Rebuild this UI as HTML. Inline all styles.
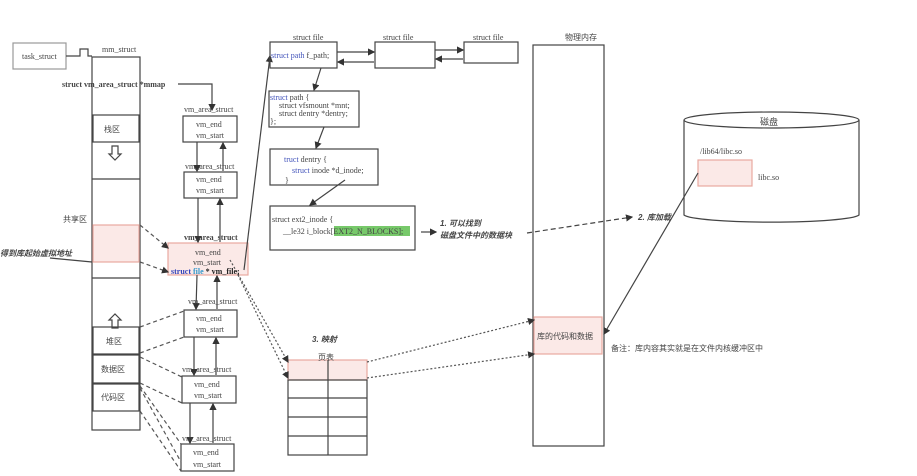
<!DOCTYPE html>
<html><head><meta charset="utf-8"><style>
html,body{margin:0;padding:0;background:#fff;}
svg{display:block;}
text{font-family:"Liberation Serif","Noto Serif CJK SC",serif;fill:#444;}
.c{font-family:"Liberation Sans","Noto Sans CJK SC",sans-serif;}
</style></head><body>
<svg width="917" height="476" viewBox="0 0 917 476" xmlns="http://www.w3.org/2000/svg">
<defs>
<marker id="a" markerWidth="6" markerHeight="6" refX="5" refY="3" orient="auto"><path d="M0,0 L6,3 L0,6 z" fill="#333"/></marker>
</defs>
<g fill="none" stroke="#444" stroke-width="1.2">
<rect x="13" y="43" width="53" height="26" stroke="#999"/>
<polyline points="66,56 80,56 80,49 88,49 88,56 92,56" />
<!-- mm column -->
<rect x="92" y="57" width="48" height="373"/>
<rect x="93" y="115" width="46" height="27"/>
<line x1="92" y1="179" x2="140" y2="179"/>
<rect x="93" y="225" width="46" height="37" fill="#fbe9e7" stroke="#e8a9a0"/>
<line x1="92" y1="278" x2="140" y2="278"/>
<rect x="93" y="327" width="46" height="27"/>
<rect x="93" y="355" width="46" height="28"/>
<rect x="93" y="384" width="46" height="27"/>
<path d="M112,146 v8 h-3 l6,6 l6,-6 h-3 v-8 z"/>
<path d="M112,328 v-8 h-3 l6,-6 l6,6 h-3 v8 z"/>
<!-- mmap arrow -->
<polyline points="178,84 212,84 212,110" marker-end="url(#a)"/>
<!-- vm areas -->
<rect x="183" y="116" width="54" height="26"/>
<rect x="184" y="172" width="53" height="26"/>
<rect x="168" y="243" width="80" height="32" fill="#fbe9e7" stroke="#e8a9a0"/>
<rect x="184" y="310" width="53" height="27"/>
<rect x="182" y="376" width="54" height="27"/>
<rect x="181" y="444" width="53" height="27"/>
<line x1="197" y1="142" x2="197" y2="171" marker-end="url(#a)"/>
<line x1="223" y1="171" x2="223" y2="143" marker-end="url(#a)"/>
<line x1="198" y1="198" x2="198" y2="242" marker-end="url(#a)"/>
<line x1="220" y1="242" x2="220" y2="199" marker-end="url(#a)"/>
<line x1="197" y1="275" x2="196" y2="309" marker-end="url(#a)"/>
<line x1="217" y1="309" x2="217" y2="276" marker-end="url(#a)"/>
<line x1="194" y1="337" x2="194" y2="375" marker-end="url(#a)"/>
<line x1="216" y1="375" x2="216" y2="338" marker-end="url(#a)"/>
<line x1="190" y1="403" x2="190" y2="443" marker-end="url(#a)"/>
<line x1="213" y1="443" x2="213" y2="404" marker-end="url(#a)"/>
<!-- dashed region links -->
<g stroke-dasharray="4,3" stroke="#555">
<line x1="140" y1="225" x2="168" y2="248" marker-end="url(#a)"/>
<line x1="140" y1="262" x2="168" y2="272" marker-end="url(#a)"/>
<line x1="140" y1="327" x2="184" y2="311"/>
<line x1="140" y1="353" x2="184" y2="337"/>
<line x1="140" y1="357" x2="182" y2="377"/>
<line x1="140" y1="383" x2="182" y2="403"/>
<line x1="140" y1="386" x2="181" y2="444"/>
<line x1="140" y1="411" x2="181" y2="471"/>
<line x1="140" y1="388" x2="181" y2="462"/>
</g>
<line x1="50" y1="258" x2="92" y2="262"/>
<!-- vm_file to struct file -->
<line x1="244" y1="270" x2="270" y2="56" marker-end="url(#a)"/>
<!-- struct files -->
<rect x="270" y="42" width="67" height="26"/>
<rect x="375" y="42" width="60" height="26"/>
<rect x="464" y="42" width="54" height="21"/>
<line x1="337" y1="52" x2="374" y2="52" marker-end="url(#a)"/>
<line x1="374" y1="62" x2="338" y2="62" marker-end="url(#a)"/>
<line x1="435" y1="50" x2="463" y2="50" marker-end="url(#a)"/>
<line x1="463" y1="59" x2="436" y2="59" marker-end="url(#a)"/>
<rect x="269" y="91" width="90" height="36"/>
<rect x="270" y="149" width="108" height="36"/>
<rect x="270" y="206" width="145" height="44"/>
<line x1="321" y1="68" x2="314" y2="90" marker-end="url(#a)"/>
<line x1="324" y1="127" x2="316" y2="148" marker-end="url(#a)"/>
<line x1="345" y1="180" x2="310" y2="205" marker-end="url(#a)"/>
<line x1="421" y1="232" x2="436" y2="232" marker-end="url(#a)"/>
<!-- physical memory -->
<rect x="533" y="45" width="71" height="401"/>
<rect x="534" y="317" width="68" height="37" fill="#fbe9e7" stroke="#e8a9a0"/>
<!-- disk -->
<path d="M684,120 v95 a88,8 0 0 0 175,0 v-95"/>
<ellipse cx="771.5" cy="120" rx="87.5" ry="8"/>
<rect x="698" y="160" width="54" height="26" fill="#fbe9e7" stroke="#e8a9a0"/>
<line x1="698" y1="173" x2="604" y2="334" marker-end="url(#a)"/>
<line x1="527" y1="233" x2="632" y2="217" stroke-dasharray="5,3" marker-end="url(#a)"/>
<!-- page table -->
<rect x="288" y="360" width="79" height="20" fill="#fbe9e7" stroke="#e8a9a0"/>
<rect x="288" y="380" width="79" height="75"/>
<line x1="288" y1="398" x2="367" y2="398"/>
<line x1="288" y1="417" x2="367" y2="417"/>
<line x1="288" y1="436" x2="367" y2="436"/>
<line x1="328" y1="360" x2="328" y2="455"/>
<g stroke-dasharray="2,2" stroke="#555">
<line x1="230" y1="260" x2="288" y2="362" marker-end="url(#a)"/>
<line x1="238" y1="275" x2="288" y2="378" marker-end="url(#a)"/>
<line x1="367" y1="362" x2="534" y2="320" marker-end="url(#a)"/>
<line x1="367" y1="378" x2="534" y2="354" marker-end="url(#a)"/>
</g>
</g>
<g font-size="8">
<text x="22" y="59">task_struct</text>
<text x="102" y="52">mm_struct</text>
<text x="62" y="87" font-weight="bold" fill="#333">struct vm_area_struct *mmap</text>
<text x="184" y="112">vm_area_struct</text>
<text x="196" y="127">vm_end</text><text x="196" y="138">vm_start</text>
<text x="185" y="169">vm_area_struct</text>
<text x="196" y="182">vm_end</text><text x="196" y="193">vm_start</text>
<text x="184" y="240" font-weight="bold" fill="#333">vm_area_struct</text>
<text x="195" y="255">vm_end</text><text x="193" y="265">vm_start</text>
<text x="171" y="274" font-weight="bold"><tspan fill="#3344bb">struct</tspan><tspan fill="#3399cc"> file</tspan><tspan fill="#222"> * vm_file;</tspan></text>
<text x="188" y="304">vm_area_struct</text>
<text x="196" y="321">vm_end</text><text x="196" y="332">vm_start</text>
<text x="182" y="372">vm_area_struct</text>
<text x="194" y="387">vm_end</text><text x="194" y="398">vm_start</text>
<text x="182" y="441">vm_area_struct</text>
<text x="193" y="455">vm_end</text><text x="193" y="467">vm_start</text>
<text x="293" y="40">struct file</text>
<text x="383" y="40">struct file</text>
<text x="473" y="40">struct file</text>
<text x="271" y="58"><tspan fill="#4455bb">struct path</tspan> f_path;</text>
<text x="270" y="100"><tspan fill="#4455bb">struct</tspan> path {</text>
<text x="279" y="108" fill="#4455bb">struct <tspan fill="#444">vfsmount *mnt;</tspan></text>
<text x="279" y="116" fill="#4455bb">struct <tspan fill="#444">dentry *dentry;</tspan></text>
<text x="270" y="124">};</text>
<text x="284" y="162"><tspan fill="#4455bb">truct</tspan> dentry {</text>
<text x="292" y="173"><tspan fill="#4455bb">struct</tspan> inode *d_inode;</text>
<text x="285" y="183">}</text>
<text x="272" y="222">struct ext2_inode {</text>
<rect x="334" y="226" width="76" height="10" fill="#77c96a"/>
<text x="283" y="234">__le32  i_block[EXT2_N_BLOCKS];</text>
<text x="565" y="40" class="c">物理内存</text>
<text x="537" y="339" class="c" fill="#333">库的代码和数据</text>
<text x="760" y="125" class="c" font-size="9">磁盘</text>
<text x="700" y="154">/lib64/libc.so</text>
<text x="758" y="180">libc.so</text>
<text x="611" y="351" class="c" fill="#333">备注：库内容其实就是在文件内核缓冲区中</text>
<text x="318" y="360" class="c">页表</text>
<text x="63" y="222" class="c" fill="#333">共享区</text>
<text x="104" y="132" class="c" fill="#333">栈区</text>
<text x="106" y="344" class="c" fill="#333">堆区</text>
<text x="101" y="372" class="c" fill="#333">数据区</text>
<text x="101" y="400" class="c" fill="#333">代码区</text>
</g>
<g class="c" font-size="8" font-weight="bold" font-style="italic" fill="#222">
<text x="0" y="256" class="c" fill="#222">得到库起始虚拟地址</text>
<text x="440" y="226" class="c" fill="#222">1. 可以找到</text>
<text x="440" y="238" class="c" fill="#222">磁盘文件中的数据块</text>
<text x="638" y="220" class="c" fill="#222">2. 库加载</text>
<text x="312" y="342" class="c" fill="#222">3. 映射</text>
</g>
</svg>
</body></html>
